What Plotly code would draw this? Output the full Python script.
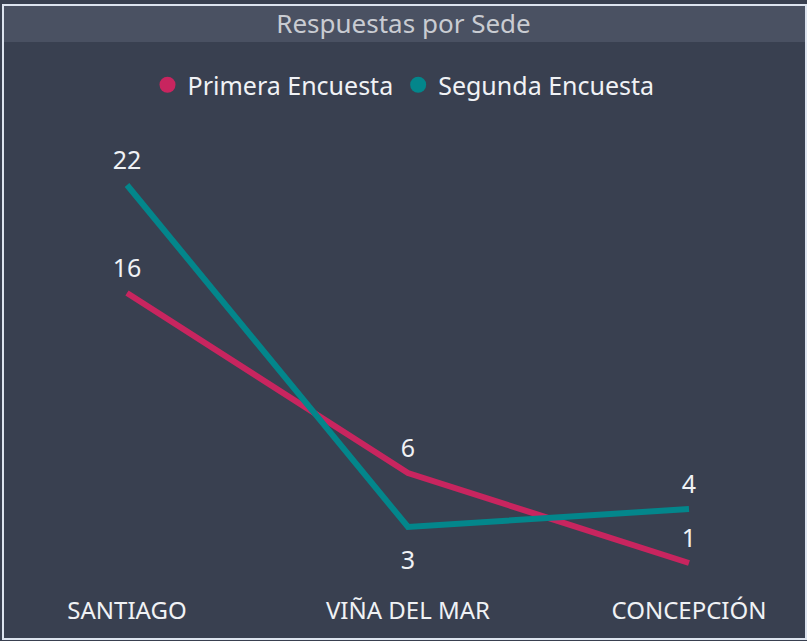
import plotly.graph_objects as go

sedes = ["SANTIAGO", "VIÑA DEL MAR", "CONCEPCIÓN"]
primera = [16, 6, 1]
segunda = [22, 3, 4]
pos_primera = ["top center", "top center", "top center"]
pos_segunda = ["top center", "bottom center", "top center"]
msize_primera = [14, 14, 14]
msize_segunda = [14, 36, 14]

W, H = 807, 641
PB = 594  # plot bottom pixel
BG = "#394050"
BAR = "#4a5162"
PINK = "#c8255f"
TEAL = "#03868b"
FONT = "Noto Sans"

def px(x):
    return x / W

def py(y):
    return (PB - y) / PB

fig = go.Figure()
for name, vals, col, pos, ms in [("Primera Encuesta", primera, PINK, pos_primera, msize_primera),
                                 ("Segunda Encuesta", segunda, TEAL, pos_segunda, msize_segunda)]:
    fig.add_trace(go.Scatter(
        x=sedes, y=vals, mode="lines+markers+text", name=name,
        line=dict(color=col, width=6),
        marker=dict(size=ms, color=col, opacity=0),
        text=[str(v) for v in vals], textposition=pos,
        textfont=dict(family=FONT, size=25, color="#f0f2f5"),
        cliponaxis=False, showlegend=False, hoverinfo="skip"))
    fig.add_trace(go.Scatter(
        x=[None], y=[None], mode="markers", name=name,
        marker=dict(size=20, color=col), showlegend=True))

fig.add_shape(type="rect", xref="paper", yref="paper",
              x0=px(4), x1=px(807), y0=py(6), y1=py(42),
              fillcolor=BAR, line=dict(width=0), layer="below")
fig.add_shape(type="rect", xref="paper", yref="paper",
              x0=px(3), x1=px(806), y0=py(639), y1=py(5),
              fillcolor="rgba(0,0,0,0)", line=dict(color="#dde4ef", width=2))

fig.update_layout(
    width=W, height=H,
    margin=dict(l=0, r=0, t=0, b=H - PB),
    paper_bgcolor=BG, plot_bgcolor=BG,
    title=dict(text="Respuestas por Sede", x=0.5, xanchor="center",
               y=1 - 24 / H, yanchor="middle", yref="container",
               font=dict(family=FONT, size=26, color="#c9ccd2")),
    legend=dict(orientation="h", x=0.5, xanchor="center", y=py(85), yanchor="middle",
                font=dict(family=FONT, size=25, color="#f0f2f5"),
                bgcolor="rgba(0,0,0,0)", itemsizing="trace", tracegroupgap=0),
    xaxis=dict(type="category", range=[-127 / 281, 2 + 118 / 281],
               showgrid=False, zeroline=False, showline=False, ticks="",
               tickfont=dict(family=FONT, size=24, color="#f0f2f5")),
    yaxis=dict(range=[(581 - PB) / 18, 581 / 18], visible=False,
               showgrid=False, zeroline=False),
    hovermode=False,
)

fig.write_html("out.html", config={"displayModeBar": False},
               post_script="document.body.style.margin='0';document.body.style.overflow='hidden';")
